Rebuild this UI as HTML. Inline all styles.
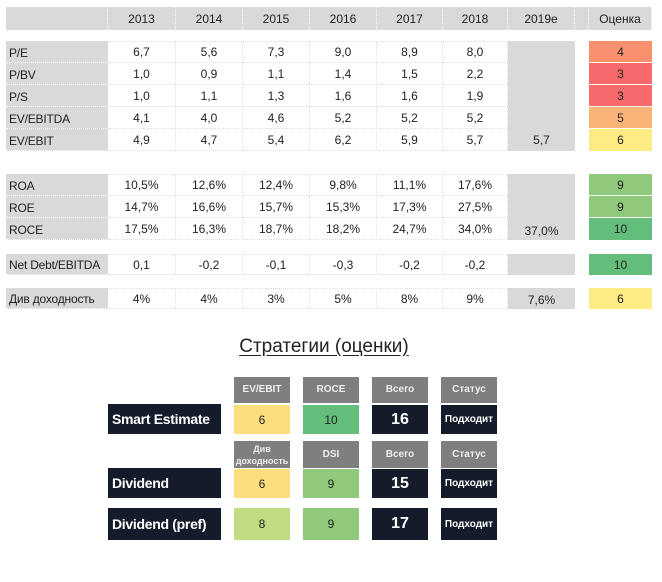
<!DOCTYPE html>
<html><head><meta charset="utf-8"><style>
body{margin:0;width:662px;height:582px;background:#fff;position:relative;overflow:hidden;font-family:"Liberation Sans","Noto Sans CJK SC",sans-serif;}
div{position:absolute;box-sizing:border-box;}
.c{display:flex;align-items:center;justify-content:center;font-size:12px;color:#222;}
.l{display:flex;align-items:flex-end;padding-left:3px;padding-bottom:2px;font-size:12px;color:#222;background:#d9d9d9;border-bottom:1px dotted #fff;white-space:nowrap;letter-spacing:-0.2px;}
.h{background:#d9d9d9;display:flex;align-items:center;justify-content:center;font-size:12px;color:#222;border-right:1px dotted #fff;}
.row{left:108px;width:400px;border-bottom:1px dotted #ddd;}
.v{border-right:1px dotted #ddd;height:100%;top:0;display:flex;align-items:center;justify-content:center;font-size:12px;color:#222;}
.g{background:#d9d9d9;}
.gh{background:#7f7f7f;color:#eee;font-weight:bold;font-size:10px;display:flex;align-items:center;justify-content:center;text-align:center;line-height:12px;}
.nv{background:#141c2b;color:#fff;font-weight:bold;display:flex;align-items:center;justify-content:center;}
.bl{background:#141c2b;color:#fff;font-weight:bold;font-size:14px;display:flex;align-items:center;padding-left:4px;white-space:nowrap;letter-spacing:-0.3px;}
</style></head><body>
<div class="h" style="left:6px;top:7px;width:102px;height:23px"></div>
<div class="h" style="left:108px;top:7px;width:68px;height:23px">2013</div>
<div class="h" style="left:176px;top:7px;width:67px;height:23px">2014</div>
<div class="h" style="left:243px;top:7px;width:67px;height:23px">2015</div>
<div class="h" style="left:310px;top:7px;width:67px;height:23px">2016</div>
<div class="h" style="left:377px;top:7px;width:66px;height:23px">2017</div>
<div class="h" style="left:443px;top:7px;width:65px;height:23px">2018</div>
<div class="h" style="left:508px;top:7px;width:67px;height:23px">2019e</div>
<div class="h" style="left:575px;top:7px;width:14px;height:23px"></div>
<div class="h" style="left:589px;top:7px;width:63px;height:23px">Оценка</div>

<div class="g" style="left:508px;top:41px;width:67px;height:110px"></div>
<div class="c" style="left:508px;top:129px;width:67px;height:22px">5,7</div>
<div class="g" style="left:508px;top:174px;width:67px;height:66px"></div>
<div class="c" style="left:508px;top:220px;width:67px;height:22px">37,0%</div>
<div class="g" style="left:508px;top:254px;width:67px;height:21px"></div>
<div class="g" style="left:508px;top:288px;width:67px;height:21px"></div>
<div class="c" style="left:508px;top:289px;width:67px;height:22px">7,6%</div>

<div class="l" style="left:6px;top:41px;width:102px;height:22px">P/E</div>
<div class="l" style="left:6px;top:63px;width:102px;height:22px">P/BV</div>
<div class="l" style="left:6px;top:85px;width:102px;height:22px">P/S</div>
<div class="l" style="left:6px;top:107px;width:102px;height:22px">EV/EBITDA</div>
<div class="l" style="left:6px;top:129px;width:102px;height:22px">EV/EBIT</div>
<div class="l" style="left:6px;top:174px;width:102px;height:22px">ROA</div>
<div class="l" style="left:6px;top:196px;width:102px;height:22px">ROE</div>
<div class="l" style="left:6px;top:218px;width:102px;height:22px">ROCE</div>
<div class="l" style="left:6px;top:254px;width:102px;height:21px">Net Debt/EBITDA</div>
<div class="l" style="left:6px;top:288px;width:102px;height:21px">Див доходность</div>

<div class="row" style="top:41px;height:22px;border-top:1px dotted #ddd"><div class="v" style="left:0;width:68px">6,7</div><div class="v" style="left:68px;width:67px">5,6</div><div class="v" style="left:135px;width:67px">7,3</div><div class="v" style="left:202px;width:67px">9,0</div><div class="v" style="left:269px;width:66px">8,9</div><div class="v" style="left:335px;width:65px">8,0</div></div>
<div class="row" style="top:63px;height:22px"><div class="v" style="left:0;width:68px">1,0</div><div class="v" style="left:68px;width:67px">0,9</div><div class="v" style="left:135px;width:67px">1,1</div><div class="v" style="left:202px;width:67px">1,4</div><div class="v" style="left:269px;width:66px">1,5</div><div class="v" style="left:335px;width:65px">2,2</div></div>
<div class="row" style="top:85px;height:22px"><div class="v" style="left:0;width:68px">1,0</div><div class="v" style="left:68px;width:67px">1,1</div><div class="v" style="left:135px;width:67px">1,3</div><div class="v" style="left:202px;width:67px">1,6</div><div class="v" style="left:269px;width:66px">1,6</div><div class="v" style="left:335px;width:65px">1,9</div></div>
<div class="row" style="top:107px;height:22px"><div class="v" style="left:0;width:68px">4,1</div><div class="v" style="left:68px;width:67px">4,0</div><div class="v" style="left:135px;width:67px">4,6</div><div class="v" style="left:202px;width:67px">5,2</div><div class="v" style="left:269px;width:66px">5,2</div><div class="v" style="left:335px;width:65px">5,2</div></div>
<div class="row" style="top:129px;height:22px"><div class="v" style="left:0;width:68px">4,9</div><div class="v" style="left:68px;width:67px">4,7</div><div class="v" style="left:135px;width:67px">5,4</div><div class="v" style="left:202px;width:67px">6,2</div><div class="v" style="left:269px;width:66px">5,9</div><div class="v" style="left:335px;width:65px">5,7</div></div>

<div class="row" style="top:174px;height:22px;border-top:1px dotted #ddd"><div class="v" style="left:0;width:68px">10,5%</div><div class="v" style="left:68px;width:67px">12,6%</div><div class="v" style="left:135px;width:67px">12,4%</div><div class="v" style="left:202px;width:67px">9,8%</div><div class="v" style="left:269px;width:66px">11,1%</div><div class="v" style="left:335px;width:65px">17,6%</div></div>
<div class="row" style="top:196px;height:22px"><div class="v" style="left:0;width:68px">14,7%</div><div class="v" style="left:68px;width:67px">16,6%</div><div class="v" style="left:135px;width:67px">15,7%</div><div class="v" style="left:202px;width:67px">15,3%</div><div class="v" style="left:269px;width:66px">17,3%</div><div class="v" style="left:335px;width:65px">27,5%</div></div>
<div class="row" style="top:218px;height:22px"><div class="v" style="left:0;width:68px">17,5%</div><div class="v" style="left:68px;width:67px">16,3%</div><div class="v" style="left:135px;width:67px">18,7%</div><div class="v" style="left:202px;width:67px">18,2%</div><div class="v" style="left:269px;width:66px">24,7%</div><div class="v" style="left:335px;width:65px">34,0%</div></div>

<div class="row" style="top:254px;height:21px;border-top:1px dotted #ddd"><div class="v" style="left:0;width:68px">0,1</div><div class="v" style="left:68px;width:67px">-0,2</div><div class="v" style="left:135px;width:67px">-0,1</div><div class="v" style="left:202px;width:67px">-0,3</div><div class="v" style="left:269px;width:66px">-0,2</div><div class="v" style="left:335px;width:65px">-0,2</div></div>
<div class="row" style="top:288px;height:21px;border-top:1px dotted #ddd"><div class="v" style="left:0;width:68px">4%</div><div class="v" style="left:68px;width:67px">4%</div><div class="v" style="left:135px;width:67px">3%</div><div class="v" style="left:202px;width:67px">5%</div><div class="v" style="left:269px;width:66px">8%</div><div class="v" style="left:335px;width:65px">9%</div></div>

<div class="c" style="left:589px;top:41px;width:63px;height:22px;background:#f8906e;border-bottom:1px solid #fff">4</div>
<div class="c" style="left:589px;top:63px;width:63px;height:22px;background:#f8696b;border-bottom:1px solid #fff">3</div>
<div class="c" style="left:589px;top:85px;width:63px;height:22px;background:#f8696b;border-bottom:1px solid #fff">3</div>
<div class="c" style="left:589px;top:107px;width:63px;height:22px;background:#fbb478;border-bottom:1px solid #fff">5</div>
<div class="c" style="left:589px;top:129px;width:63px;height:22px;background:#ffeb84">6</div>
<div class="c" style="left:589px;top:174px;width:63px;height:22px;background:#8ec97c;border-bottom:1px solid #fff">9</div>
<div class="c" style="left:589px;top:196px;width:63px;height:22px;background:#8ec97c;border-bottom:1px solid #fff">9</div>
<div class="c" style="left:589px;top:218px;width:63px;height:22px;background:#63be7b">10</div>
<div class="c" style="left:589px;top:254px;width:63px;height:21px;background:#63be7b">10</div>
<div class="c" style="left:589px;top:288px;width:63px;height:21px;background:#ffeb84">6</div>

<div style="left:200px;top:336px;width:248px;height:26px;text-align:center;font-size:19px;color:#222;"><span style="text-decoration:underline;text-underline-offset:3px">Стратегии (оценки)</span></div>

<div class="gh" style="left:234px;top:377px;width:56px;height:26px">EV/EBIT</div>
<div class="gh" style="left:303px;top:377px;width:56px;height:26px">ROCE</div>
<div class="gh" style="left:372px;top:377px;width:56px;height:26px">Всего</div>
<div class="gh" style="left:441px;top:377px;width:56px;height:26px">Статус</div>
<div class="bl" style="left:108px;top:404px;width:113px;height:30px">Smart Estimate</div>
<div class="c" style="left:234px;top:405px;width:56px;height:29px;background:#fedd7e">6</div>
<div class="c" style="left:303px;top:405px;width:56px;height:29px;background:#63be7b">10</div>
<div class="nv" style="left:372px;top:405px;width:56px;height:29px;font-size:16px">16</div>
<div class="nv" style="left:441px;top:405px;width:56px;height:29px;font-size:10px">Подходит</div>

<div class="gh" style="left:234px;top:441px;width:56px;height:27px;font-size:9px">Див<br>доходность</div>
<div class="gh" style="left:303px;top:441px;width:56px;height:27px">DSI</div>
<div class="gh" style="left:372px;top:441px;width:56px;height:27px">Всего</div>
<div class="gh" style="left:441px;top:441px;width:56px;height:27px">Статус</div>
<div class="bl" style="left:108px;top:468px;width:113px;height:30px">Dividend</div>
<div class="c" style="left:234px;top:469px;width:56px;height:29px;background:#fedd7e">6</div>
<div class="c" style="left:303px;top:469px;width:56px;height:29px;background:#8ec97c">9</div>
<div class="nv" style="left:372px;top:469px;width:56px;height:29px;font-size:16px">15</div>
<div class="nv" style="left:441px;top:469px;width:56px;height:29px;font-size:10px">Подходит</div>

<div class="bl" style="left:108px;top:508px;width:113px;height:32px">Dividend (pref)</div>
<div class="c" style="left:234px;top:508px;width:56px;height:32px;background:#c0dc82">8</div>
<div class="c" style="left:303px;top:508px;width:56px;height:32px;background:#8ec97c">9</div>
<div class="nv" style="left:372px;top:508px;width:56px;height:32px;font-size:16px">17</div>
<div class="nv" style="left:441px;top:508px;width:56px;height:32px;font-size:10px">Подходит</div>
</body></html>
